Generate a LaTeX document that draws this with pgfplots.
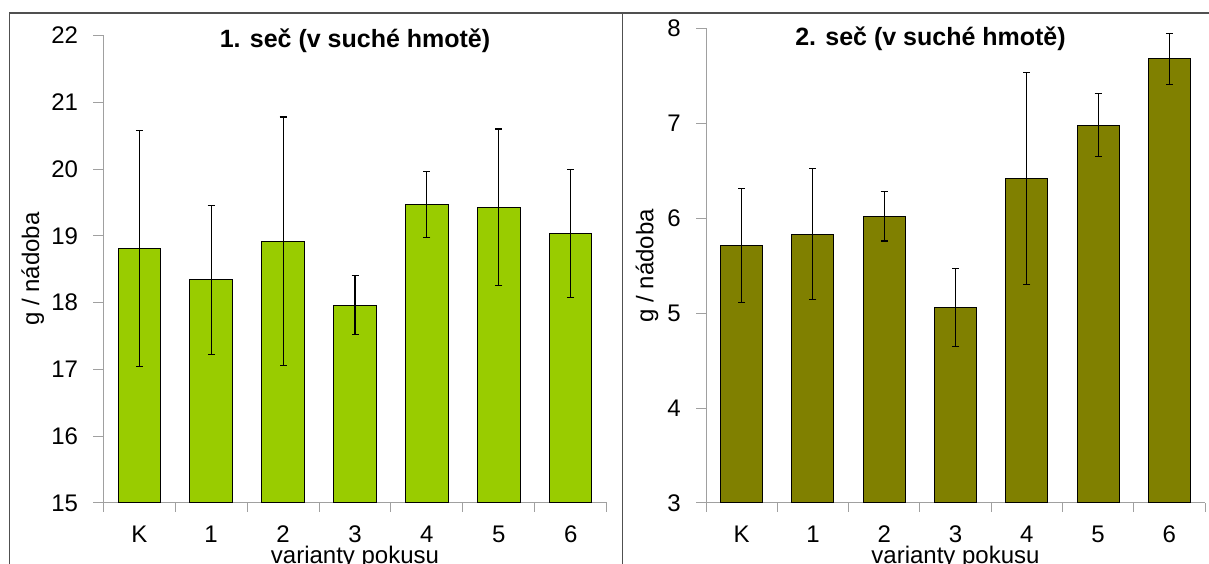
\documentclass[border=0pt]{standalone}
\usepackage{pgfplots}
\pgfplotsset{compat=1.18}
\usepackage{pgfplotstable}
\usepackage{fontspec}
\setmainfont{Liberation Sans}

% 1. seč: mean and +- error per variant
\pgfplotstableread{
x y err
0 18.81 1.77
1 18.34 1.12
2 18.92 1.86
3 17.96 0.44
4 19.47 0.49
5 19.43 1.17
6 19.04 0.96
}\firstcut

% 2. seč
\pgfplotstableread{
x y err
0 5.71 0.60
1 5.83 0.69
2 6.02 0.26
3 5.06 0.41
4 6.42 1.12
5 6.98 0.33
6 7.68 0.27
}\secondcut

\definecolor{limebar}{HTML}{99CC00}
\definecolor{olivebar}{HTML}{808000}
\definecolor{axisgray}{HTML}{A0A0A0}
\definecolor{framegray}{HTML}{505050}

\pgfplotsset{
  seccut/.style={
    scale only axis,
    anchor=south west,
    xmin=-0.5, xmax=6.5,
    axis x line*=bottom, axis y line*=left,
    axis line style={axisgray, line width=1pt},
    xtick={0,...,6},
    xticklabels={K,1,2,3,4,5,6},
    major x tick style={draw=none},
    minor xtick={-0.5,0.5,...,6.5},
    minor x tick style={axisgray, line width=1pt},
    minor tick length=9pt,
    major tick length=10pt,
    tick align=outside,
    y tick style={axisgray, line width=1pt},
    ytick distance=1,
    font=\fontsize{24}{28}\selectfont,
    tick label style={font=\fontsize{24}{28}\selectfont, black, inner sep=1pt},
    xticklabel style={yshift=-12pt},
    yticklabel style={xshift=-14pt},
    /pgf/number format/assume math mode=true,
    title style={font=\fontsize{25}{30}\selectfont\bfseries, anchor=center},
    xlabel={varianty pokusu},
    ylabel={g / nádoba},
    xlabel style={at={(axis description cs:0.5,0)}, anchor=center, inner sep=0pt, yshift=-54pt},
    bar width=0.59,
    error bars/y dir=both,
    error bars/y explicit,
    error bars/error bar style={black, line width=1.1pt},
    error bars/error mark options={rotate=90, black, mark size=3.5pt, line width=1.1pt},
  },
}

\begin{document}
\begin{tikzpicture}
\useasboundingbox (0,0) rectangle (1209pt,564pt);

\begin{axis}[seccut,
  at={(103.3pt,61pt)}, width=503.4pt, height=467.5pt,
  ymin=15, ymax=22,
  title={1. seč (v suché hmotě)},
  title style={at={(axis description cs:0.5,1)}, yshift=-11.5pt},
  ylabel style={at={(axis description cs:-0.14,0.5)}, anchor=center},
]
\addplot[ybar, fill=limebar, draw=black, line width=1pt]
  table[x=x, y=y, y error=err] {\firstcut};
\end{axis}

\begin{axis}[seccut,
  at={(706pt,61pt)}, width=499pt, height=474.6pt,
  ymin=3, ymax=8,
  title={2. seč (v suché hmotě)},
  title style={at={(axis description cs:0.5,1)}, yshift=-16.5pt, xshift=-25pt},
  ylabel style={at={(axis description cs:-0.118,0.5)}, anchor=center},
]
\addplot[ybar, fill=olivebar, draw=black, line width=1pt]
  table[x=x, y=y, y error=err] {\secondcut};
\end{axis}

\draw[framegray, line width=1.5pt] (9.3pt,0) -- (9.3pt,551pt) -- (1209pt,551pt);
\draw[framegray, line width=1.5pt] (622.7pt,0) -- (622.7pt,551pt);
\end{tikzpicture}
\end{document}
